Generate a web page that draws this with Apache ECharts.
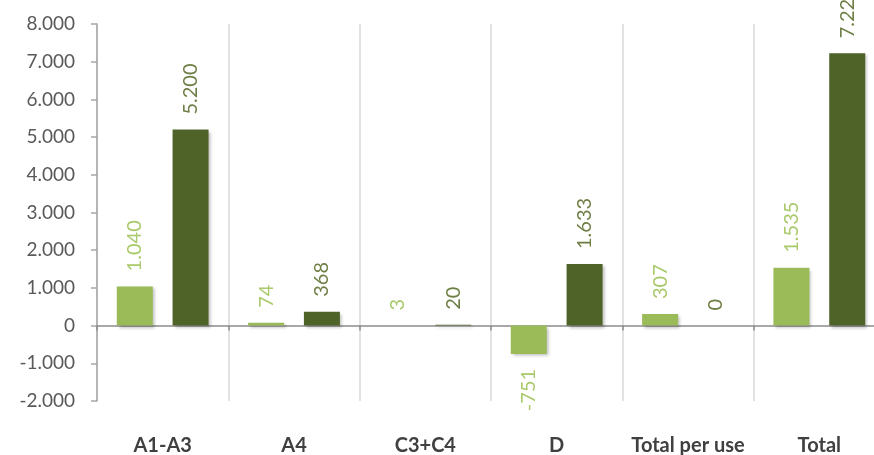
<!DOCTYPE html>
<html>
<head>
<meta charset="utf-8">
<script src="https://cdn.jsdelivr.net/npm/echarts@6/dist/echarts.min.js"></script>
<style>
  html, body { margin: 0; padding: 0; background: #fff; }
  #chart { width: 874px; height: 455px; }
</style>
</head>
<body>
<div id="chart"></div>
<script>
const categories = ["A1-A3", "A4", "C3+C4", "D", "Total per use", "Total"];
const lightValues = [1040, 74, 3, -751, 307, 1535];
const darkValues = [5200, 368, 20, 1633, 0, 7222];
const yTicks = { min: -2000, max: 8000, interval: 1000 };

// thousands with a dot, like the source
function fmt(v) {
  const s = String(Math.abs(v)).replace(/\B(?=(\d{3})+(?!\d))/g, ".");
  return (v < 0 ? "-" : "") + s;
}

// negative bars get their label below, reading upward to the bar
function toData(values) {
  return values.map(v => v < 0
    ? { value: v, label: { position: "bottom", align: "right" } }
    : v);
}

const font = "Lato, 'Open Sans', sans-serif";

function barLabel(color) {
  return {
    show: true,
    position: "top",
    distance: 15,
    rotate: 90,
    align: "left",
    verticalAlign: "middle",
    color: color,
    fontSize: 20,
    fontFamily: font,
    formatter: p => fmt(p.value)
  };
}

const chart = echarts.init(document.getElementById("chart"));
chart.setOption({
  animation: false,
  grid: { left: 97, top: 24, width: 788, height: 377, outerBoundsMode: "none", containLabel: false },
  xAxis: [
    {
      type: "category",
      data: categories,
      axisLine: { onZero: true, lineStyle: { color: "#8c8c8c", width: 1.5 } },
      axisTick: { show: true, length: 5, lineStyle: { color: "#8c8c8c", width: 1.5 } },
      axisLabel: { show: false },
      splitLine: { show: true, lineStyle: { color: "#d9d9d9", width: 1.5 } }
    },
    {
      type: "category",
      data: categories,
      position: "bottom",
      axisLine: { show: false, onZero: false },
      axisTick: { show: false },
      splitLine: { show: false },
      axisLabel: {
        margin: 35,
        color: "#404040",
        fontWeight: "bold",
        fontSize: 20,
        fontFamily: font,
        interval: 0
      }
    }
  ],
  yAxis: {
    type: "value",
    min: yTicks.min,
    max: yTicks.max,
    interval: yTicks.interval,
    axisLine: { show: true, lineStyle: { color: "#a6a6a6", width: 1.5 } },
    axisTick: { show: true, length: 6, lineStyle: { color: "#a6a6a6", width: 1.5 } },
    splitLine: { show: false },
    axisLabel: {
      margin: 22,
      color: "#595959",
      fontSize: 19,
      fontFamily: font,
      formatter: fmt
    }
  },
  series: [
    {
      type: "bar",
      data: toData(lightValues),
      barWidth: 36,
      barGap: "55%",
      itemStyle: {
        color: "#9bbb59",
        shadowColor: "rgba(0,0,0,0.25)",
        shadowBlur: 3,
        shadowOffsetX: 2,
        shadowOffsetY: 2
      },
      label: barLabel("#a9c96a")
    },
    {
      type: "bar",
      data: toData(darkValues),
      barWidth: 36,
      itemStyle: {
        color: "#4f6228",
        shadowColor: "rgba(0,0,0,0.25)",
        shadowBlur: 3,
        shadowOffsetX: 2,
        shadowOffsetY: 2
      },
      label: barLabel("#6e7f45")
    }
  ]
});
</script>
</body>
</html>
